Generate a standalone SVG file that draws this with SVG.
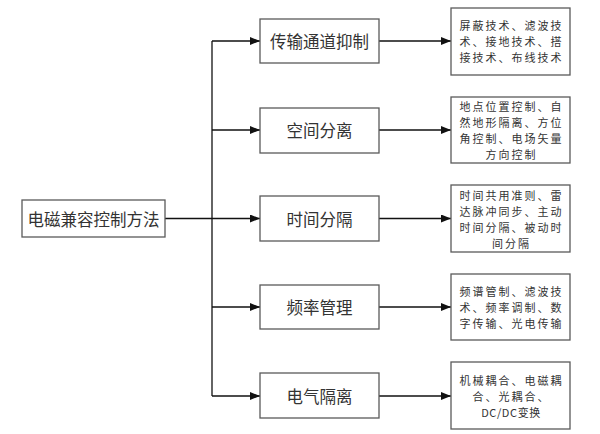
<svg xmlns="http://www.w3.org/2000/svg" width="600" height="434" viewBox="0 0 600 434">
<style>
.box{fill:#fff;stroke:#5a5a5a;stroke-width:1.3}
.t{font-family:"Noto Sans CJK SC","Noto Sans",sans-serif;fill:#333;text-anchor:middle;dominant-baseline:central}
.m{font-size:16.5px}
.s{font-size:11px;letter-spacing:2px}
.ln{fill:none;stroke:#111;stroke-width:1.3}
</style>
<defs>
<marker id="ah" markerWidth="10" markerHeight="8" refX="10" refY="4" orient="auto" markerUnits="userSpaceOnUse">
<path d="M0,0 L10,4 L0,8 Z" fill="#111"/>
</marker>
</defs>
<rect width="600" height="434" fill="#fff"/>
<g id="connectors">
<path class="ln" d="M165,218.5 H212"/>
<path class="ln" d="M212,41 V396"/>
<path class="ln" d="M212,41 H260" marker-end="url(#ah)"/>
<path class="ln" d="M212,130 H260" marker-end="url(#ah)"/>
<path class="ln" d="M212,218.5 H260" marker-end="url(#ah)"/>
<path class="ln" d="M212,307 H260" marker-end="url(#ah)"/>
<path class="ln" d="M212,396 H260" marker-end="url(#ah)"/>
<path class="ln" d="M379,41 H451" marker-end="url(#ah)"/>
<path class="ln" d="M379,130 H451" marker-end="url(#ah)"/>
<path class="ln" d="M379,218.5 H451" marker-end="url(#ah)"/>
<path class="ln" d="M379,307 H451" marker-end="url(#ah)"/>
<path class="ln" d="M379,396 H451" marker-end="url(#ah)"/>
</g>
<g id="root">
<rect class="box" x="22" y="200" width="143" height="37"/>
<text class="t m" x="93.5" y="218.5">电磁兼容控制方法</text>
</g>
<g id="n1">
<rect class="box" x="260" y="19" width="119" height="44"/>
<text class="t m" x="319.5" y="41">传输通道抑制</text>
</g>
<g id="n2">
<rect class="box" x="260" y="108" width="119" height="45"/>
<text class="t m" x="319.5" y="130">空间分离</text>
</g>
<g id="n3">
<rect class="box" x="260" y="196" width="119" height="45"/>
<text class="t m" x="319.5" y="218.5">时间分隔</text>
</g>
<g id="n4">
<rect class="box" x="260" y="285" width="119" height="44"/>
<text class="t m" x="319.5" y="307">频率管理</text>
</g>
<g id="n5">
<rect class="box" x="260" y="373" width="119" height="45"/>
<text class="t m" x="319.5" y="396">电气隔离</text>
</g>
<g id="r1">
<rect class="box" x="451" y="8" width="119" height="67"/>
<text class="t s"><tspan x="511.5" y="25">屏蔽技术、滤波技</tspan><tspan x="511.5" y="41">术、接地技术、搭</tspan><tspan x="511.5" y="57">接技术、布线技术</tspan></text>
</g>
<g id="r2">
<rect class="box" x="451" y="97" width="119" height="66"/>
<text class="t s"><tspan x="511.5" y="106">地点位置控制、自</tspan><tspan x="511.5" y="122">然地形隔离、方位</tspan><tspan x="511.5" y="138">角控制、电场矢量</tspan><tspan x="511.5" y="154">方向控制</tspan></text>
</g>
<g id="r3">
<rect class="box" x="451" y="185" width="119" height="67"/>
<text class="t s"><tspan x="511.5" y="194.5">时间共用准则、雷</tspan><tspan x="511.5" y="210.5">达脉冲同步、主动</tspan><tspan x="511.5" y="226.5">时间分隔、被动时</tspan><tspan x="511.5" y="242.5">间分隔</tspan></text>
</g>
<g id="r4">
<rect class="box" x="451" y="274" width="119" height="66"/>
<text class="t s"><tspan x="511.5" y="291">频谱管制、滤波技</tspan><tspan x="511.5" y="307">术、频率调制、数</tspan><tspan x="511.5" y="323">字传输、光电传输</tspan></text>
</g>
<g id="r5">
<rect class="box" x="451" y="362" width="119" height="67"/>
<text class="t s"><tspan x="511.5" y="380">机械耦合、电磁耦</tspan><tspan x="511.5" y="396">合、光耦合、</tspan><tspan x="511" y="412" style="letter-spacing:0.6px">DC/DC变换</tspan></text>
</g>
</svg>
